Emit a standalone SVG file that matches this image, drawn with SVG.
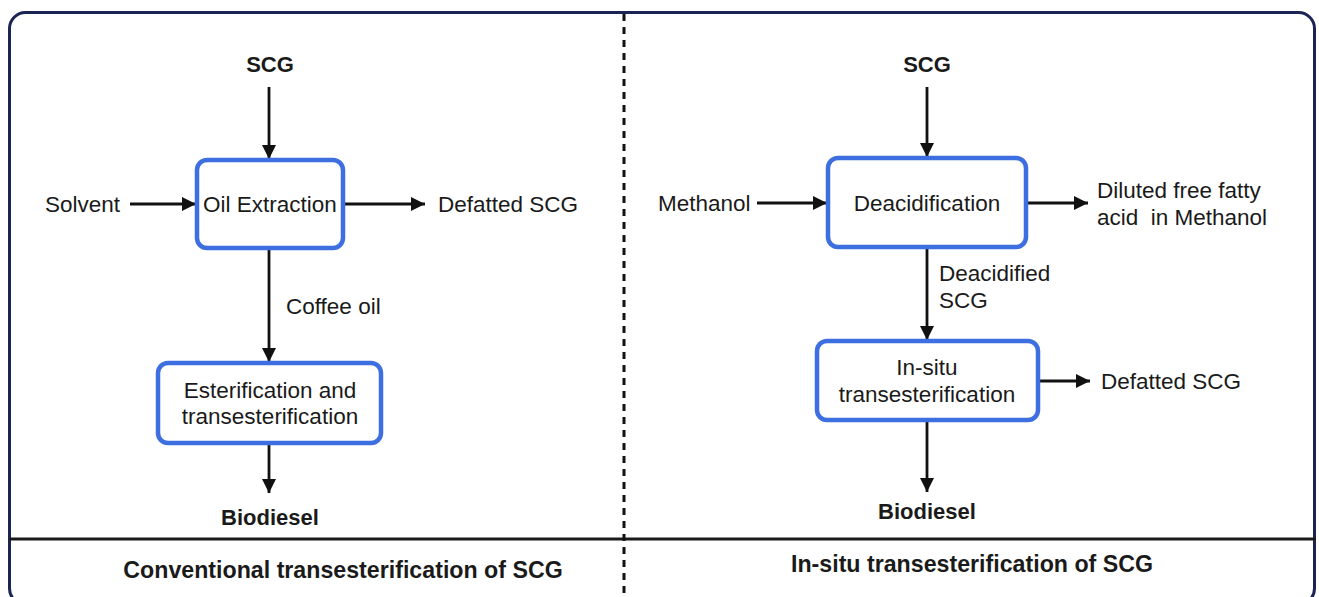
<svg xmlns="http://www.w3.org/2000/svg" width="1319" height="597" viewBox="0 0 1319 597">
<style>
text{font-family:"Liberation Sans",Arial,sans-serif;fill:#1a1a1a;font-size:22.5px}
.b{font-weight:bold;font-size:22px}
.t{font-weight:bold;font-size:23.2px}
.c{text-anchor:middle}
.box{fill:#fff;stroke:#3e6fe0;stroke-width:4.5}
.ln{stroke:#111;stroke-width:2.8;fill:none;marker-end:url(#ah)}
</style>
<defs>
<marker id="ah" viewBox="0 0 10 10" refX="10" refY="5" markerWidth="5.2" markerHeight="5" markerUnits="strokeWidth" orient="auto">
<path d="M0,0 L10,5 L0,10 Z" fill="#111"/>
</marker>
</defs>
<rect width="1319" height="597" fill="#fff"/>
<g id="frame">
<rect x="9.5" y="12.5" width="1305" height="592" rx="16" fill="none" stroke="#1b2452" stroke-width="3"/>
<line x1="9" y1="539" x2="1316" y2="539" stroke="#1a1a1a" stroke-width="3"/>
<line x1="624" y1="14" x2="624" y2="597" stroke="#111" stroke-width="3" stroke-dasharray="7,6"/>
</g>
<g id="connectors">
<line class="ln" x1="269" y1="87" x2="269" y2="159"/>
<line class="ln" x1="130" y1="204" x2="196" y2="204"/>
<line class="ln" x1="344" y1="204" x2="425" y2="204"/>
<line class="ln" x1="269" y1="249" x2="269" y2="362"/>
<line class="ln" x1="269" y1="444" x2="269" y2="493"/>
<line class="ln" x1="927" y1="87" x2="927" y2="157"/>
<line class="ln" x1="757" y1="203" x2="827" y2="203"/>
<line class="ln" x1="1027" y1="203" x2="1088" y2="203"/>
<line class="ln" x1="927" y1="248" x2="927" y2="340"/>
<line class="ln" x1="1039" y1="381" x2="1090" y2="381"/>
<line class="ln" x1="927" y1="421" x2="927" y2="492"/>
</g>
<g id="n-oil"><rect class="box" x="197" y="160" width="146" height="88" rx="10"/><text class="c" x="270" y="212">Oil Extraction</text></g>
<g id="n-ester"><rect class="box" x="158" y="363" width="223" height="80" rx="10"/><text class="c" x="270" y="398">Esterification and</text><text class="c" x="270" y="424">transesterification</text></g>
<g id="n-deacid"><rect class="box" x="828" y="158" width="198" height="89" rx="10"/><text class="c" x="927" y="211">Deacidification</text></g>
<g id="n-insitu"><rect class="box" x="817" y="341" width="221" height="79" rx="10"/><text class="c" x="927" y="375">In-situ</text><text class="c" x="927" y="402">transesterification</text></g>
<g id="labels">
<text class="b c" x="270" y="72">SCG</text>
<text x="45" y="212">Solvent</text>
<text x="438" y="212">Defatted SCG</text>
<text x="286" y="314">Coffee oil</text>
<text class="b c" x="270" y="525">Biodiesel</text>
<text class="b c" x="927" y="72">SCG</text>
<text x="658" y="211">Methanol</text>
<text x="1097" y="198">Diluted free fatty</text>
<text x="1097" y="225" xml:space="preserve">acid  in Methanol</text>
<text x="939" y="281">Deacidified</text>
<text x="939" y="308">SCG</text>
<text x="1101" y="389">Defatted SCG</text>
<text class="b c" x="927" y="519">Biodiesel</text>
<text class="t c" x="343" y="578">Conventional transesterification of SCG</text>
<text class="t c" x="972" y="572">In-situ transesterification of SCG</text>
</g>
</svg>
